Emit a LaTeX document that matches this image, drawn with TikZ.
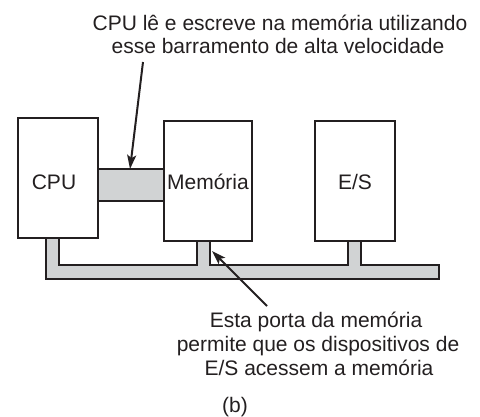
\documentclass[tikz,border=0pt]{standalone}
\usepackage{fontspec}
\setmainfont{Liberation Sans}
\usetikzlibrary{arrows.meta}
\definecolor{ink}{HTML}{231F20}
\definecolor{busgray}{HTML}{D1D3D4}
\tikzset{
  unitbox/.style={draw=ink, line width=1.5pt, fill=white, inner sep=0pt, text=ink},
  txt/.style={inner sep=0pt, anchor=base, text=ink},
  pointer/.style={draw=ink, line width=2pt, -{Stealth[length=14pt,width=9pt,inset=3pt]}},
  busline/.style={draw=ink, line width=1.5pt, fill=busgray, line join=miter},
}
\begin{document}
\begin{tikzpicture}[x=1pt, y=-1pt, font=\fontsize{21}{25}\selectfont]
\useasboundingbox (0,0) rectangle (480,416);
% bus shape
\draw[busline] (46,238) -- (46,279) -- (439,279) -- (439,265) -- (361,265) -- (361,241)
  -- (348,241) -- (348,265) -- (210,265) -- (210,241) -- (197,241) -- (197,265)
  -- (59,265) -- (59,238) -- cycle;
% high-speed bar
\draw[busline] (98,169) rectangle (164,201);
% boxes
\node[unitbox, minimum width=80pt, minimum height=120pt] (cpu) at (58,178) {};
\node[unitbox, minimum width=88pt, minimum height=120pt] (mem) at (208,181) {};
\node[unitbox, minimum width=80pt, minimum height=120pt] (es) at (355,181) {};
\node[txt] (cputxt) at (54,189) {CPU};
\node[txt] (memtxt) at (208,189) {Memória};
\node[txt] (estxt) at (355,189) {E/S};
% top label
\node[txt] (top1) at (280,30) {CPU lê e escreve na memória utilizando};
\node[txt] (top2) at (278,53) {esse barramento de alta velocidade};
\coordinate (a1tail) at (143,62);
\coordinate (a1tip) at (130,169);
\draw[pointer] (a1tail) -- (a1tip);
% bottom label
\node[txt] (bot1) at (316,327) {Esta porta da memória};
\node[txt] (bot2) at (318,351) {permite que os dispositivos de};
\node[txt] (bot3) at (319,375) {E/S acessem a memória};
\coordinate (a2tail) at (267,306);
\coordinate (a2tip) at (212,251);
\draw[pointer] (a2tail) -- (a2tip);
% caption
\node[txt] (cap) at (235,412) {(b)};
\end{tikzpicture}
\end{document}
